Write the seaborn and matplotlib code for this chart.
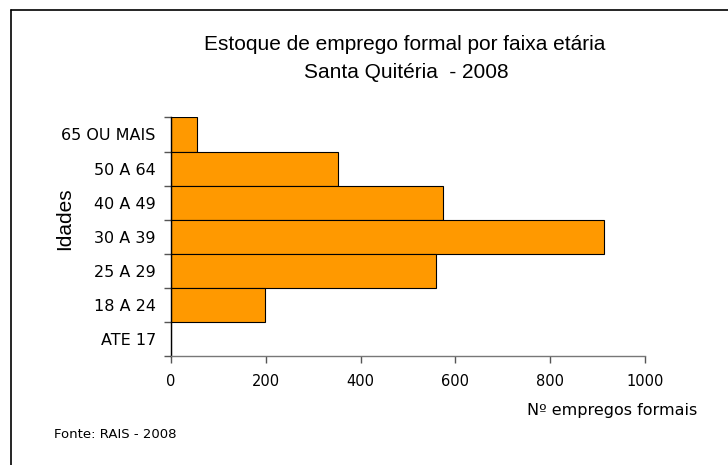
import matplotlib
matplotlib.use("Agg")
import matplotlib.pyplot as plt
import seaborn as sns
import numpy as np
from matplotlib.lines import Line2D

faixas = ["65 OU MAIS", "50 A 64", "40 A 49", "30 A 39", "25 A 29", "18 A 24", "ATE 17"]
empregos = [54, 353, 573, 914, 560, 199, 0]
xticks = [0, 200, 400, 600, 800, 1000]

sns.set_style("white")
plt.rcParams['font.family'] = ['DejaVu Sans']
plt.rcParams['text.color'] = 'black'
plt.rcParams['xtick.color'] = 'black'
plt.rcParams['ytick.color'] = 'black'

fig = plt.figure(figsize=(7.28, 4.65), dpi=100)
ax = fig.add_axes([0.235, 0.2344, 0.651, 0.513])

sns.barplot(x=empregos, y=faixas, orient="h", width=1.0, color="#FF9900",
            edgecolor="black", linewidth=0.8, saturation=1, ax=ax)

ax.set_xlim(0, 1000)
ax.set_ylim(6.5, -0.5)
ax.set_xticks(xticks)
ax.set_xticklabels([str(t) for t in xticks], fontsize=10.5)
ax.set_yticks(np.arange(len(faixas)))
ax.set_yticklabels(faixas, fontsize=11.5)
ax.set_yticks(np.arange(-0.5, len(faixas)), minor=True)
ax.tick_params(axis="y", which="major", left=True, length=0, pad=11)
ax.tick_params(axis="y", which="minor", left=True, length=5, width=1,
               color="#555555", direction="out")
ax.tick_params(axis="x", bottom=True, length=5, width=1, color="#555555",
               direction="out", pad=8)
ax.set_xlabel("")
ax.set_ylabel("")

for s in ["top", "right"]:
    ax.spines[s].set_visible(False)
ax.spines["left"].set_color("black")
ax.spines["left"].set_linewidth(1.0)
ax.spines["bottom"].set_color("#777777")
ax.spines["bottom"].set_linewidth(1.0)

fig.text(405 / 728, 1 - 45 / 465, "Estoque de emprego formal por faixa etária",
         ha="center", va="center", fontsize=15, family="Liberation Sans")
fig.text(406 / 728, 1 - 73 / 465, "Santa Quitéria  - 2008",
         ha="center", va="center", fontsize=15, family="Liberation Sans")
fig.text(65 / 728, 1 - 219 / 465, "Idades", rotation=90, ha="center", va="center",
         fontsize=15, family="Liberation Sans")
fig.text(612 / 728, 1 - 410 / 465, "Nº empregos formais", ha="center", va="center",
         fontsize=11.5)
fig.text(54 / 728, 1 - 435 / 465, "Fonte: RAIS - 2008", ha="left", va="center",
         fontsize=9.5)

# moldura da figura (só borda esquerda e superior aparecem)
fig.add_artist(Line2D([11 / 728, 11 / 728], [0, 1 - 10 / 465], color="black", lw=1.2,
                      transform=fig.transFigure))
fig.add_artist(Line2D([11 / 728, 1], [1 - 10 / 465, 1 - 10 / 465], color="black", lw=1.2,
                      transform=fig.transFigure))

fig.savefig("out.png", dpi=100)
